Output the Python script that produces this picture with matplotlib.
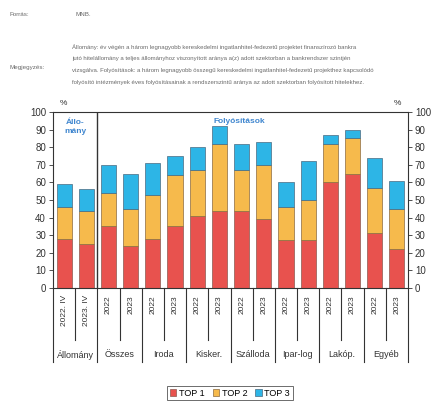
import numpy as np
import matplotlib
matplotlib.use("Agg")
from matplotlib import pyplot as plt

plt.rcParams['font.family'] = ['Liberation Sans', 'DejaVu Sans']

# data (percent)
year_labels = ['2022. IV', '2023. IV', '2022', '2023', '2022', '2023', '2022', '2023',
               '2022', '2023', '2022', '2023', '2022', '2023', '2022', '2023']
groups = ['Állomány', 'Összes', 'Iroda', 'Kisker.', 'Szálloda', 'Ipar-log', 'Lakóp.', 'Egyéb']
top1 = [28, 25, 35, 24, 28, 35, 41, 44, 44, 39, 27, 27, 60, 65, 31, 22]
top2 = [18, 19, 19, 21, 25, 29, 26, 38, 23, 31, 19, 23, 22, 20, 26, 23]
top3 = [13, 12, 16, 20, 18, 11, 13, 10, 15, 13, 14, 22, 5, 5, 17, 16]

c_red = '#e8524e'
c_orange = '#f6ba4c'
c_blue = '#2db5e6'
c_title = '#3f86cf'
gray_txt = '#6a6a6a'

fig = plt.figure(figsize=(4.43, 4.01), dpi=100)
ax = fig.add_axes([53/443, 1-288/401, 355/443, 176/401])

x = np.arange(len(top1))
t1 = np.array(top1)
t2 = np.array(top2)
t3 = np.array(top3)
w = 0.68
ax.bar(x, t1, w, color=c_red, edgecolor='#8a5a50', linewidth=0.5, label='TOP 1')
ax.bar(x, t2, w, bottom=t1, color=c_orange, edgecolor='#8a6a40', linewidth=0.5, label='TOP 2')
ax.bar(x, t3, w, bottom=t1+t2, color=c_blue, edgecolor='#4a6a80', linewidth=0.5, label='TOP 3')

ax.set_xlim(-0.5, len(x)-0.5)
ax.set_ylim(0, 100)
ax.set_yticks(np.arange(0, 101, 10))
ax.set_xticks([])
ax.tick_params(axis='y', labelsize=7, length=3, width=0.6, colors='#333333',
               labelleft=True, labelright=True, right=True, pad=2)
for s in ax.spines.values():
    s.set_color('#333333')
    s.set_linewidth(0.8)

# separator between stock and disbursements
ax.axvline(1.5, color='#333333', linewidth=1.0)

tr = ax.get_xaxis_transform()
ax.text(0.5, 0.96, 'Állo-\nmány', transform=tr, color=c_title, fontsize=6, fontweight='bold',
        ha='center', va='top', linespacing=1.4)
ax.text(7.9, 0.945, 'Folyósítások', transform=tr, color=c_title, fontsize=6, fontweight='bold',
        ha='center', va='center')
ax.text(0.02, 1.05, '%', transform=ax.transAxes, fontsize=6, ha='left', va='center', color='#333333')
ax.text(0.98, 1.05, '%', transform=ax.transAxes, fontsize=6, ha='right', va='center', color='#333333')

# category axis below the plot
for i in range(len(x) + 1):
    xp = i - 0.5
    if i % 2 == 0:
        ax.plot([xp, xp], [0, -0.42], transform=tr, color='#333333', linewidth=0.8, clip_on=False)
    else:
        ax.plot([xp, xp], [0, -0.295], transform=tr, color='#333333', linewidth=0.8, clip_on=False)
for i, lab in enumerate(year_labels):
    ax.text(i, -0.04, lab, transform=tr, rotation=90, ha='center', va='top',
            fontsize=6, color='#333333')
for g, name in enumerate(groups):
    ax.text(2*g + 0.5, -0.38, name, transform=tr, ha='center', va='center',
            fontsize=6.5, color='#333333')

leg = fig.legend(loc='center', bbox_to_anchor=(230/443, 1-393/401), ncol=3, fontsize=6.5,
                 handlelength=0.7, handleheight=0.7, handletextpad=0.3, columnspacing=0.9,
                 fancybox=False, edgecolor='#555555', borderpad=0.3, framealpha=1)
leg.get_frame().set_linewidth(0.6)

# header notes
fig.text(10/443, 1-15/401, 'Forrás:', fontsize=4.5, color=gray_txt, va='center')
fig.text(75/443, 1-15/401, 'MNB.', fontsize=4.5, color=gray_txt, va='center')
fig.text(10/443, 1-68/401, 'Megjegyzés:', fontsize=4.5, color=gray_txt, va='center')
note = ['Állomány: év végén a három legnagyobb kereskedelmi ingatlanhitel-fedezetű projektet finanszírozó bankra',
        'jutó hitelállomány a teljes állományhoz viszonyított aránya a(z) adott szektorban a bankrendszer szintjén',
        'vizsgálva. Folyósítások: a három legnagyobb összegű kereskedelmi ingatlanhitel-fedezetű projekthez kapcsolódó',
        'folyósító intézmények éves folyósításainak a rendszerszintű aránya az adott szektorban folyósított hitelekhez.']
for k, line in enumerate(note):
    fig.text(72/443, 1-(47 + 11.7*k)/401, line, fontsize=4.3, color=gray_txt, va='center')

fig.savefig('out.png', dpi=100)
